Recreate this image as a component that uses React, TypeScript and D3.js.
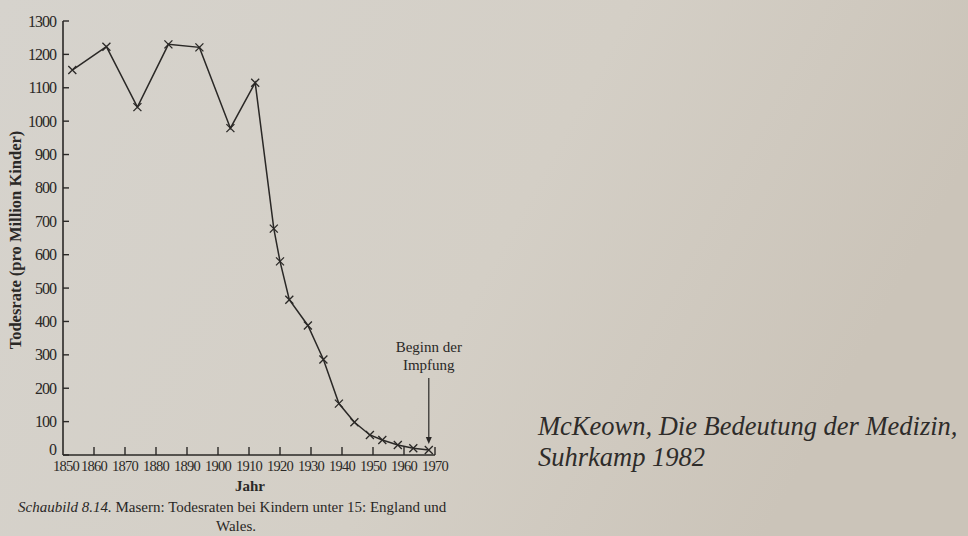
import React from "react";
import * as d3 from "d3";

const years = [1853, 1864, 1874, 1884, 1894, 1904, 1912, 1918, 1920, 1923, 1929, 1934, 1939, 1944, 1949, 1953, 1958, 1963, 1968];
const values = [1153, 1223, 1042, 1230, 1221, 979, 1115, 678, 580, 465, 388, 286, 154, 98, 60, 45, 30, 20, 15];
const yTicks = [0, 100, 200, 300, 400, 500, 600, 700, 800, 900, 1000, 1100, 1200, 1300];
const xTicks = [1850, 1860, 1870, 1880, 1890, 1900, 1910, 1920, 1930, 1940, 1950, 1960, 1970];
const vaccineYear = 1968;

const W = 968;
const H = 536;
const ink = "#2a2826";
const serif = "'Liberation Serif', 'DejaVu Serif', serif";

export default function App() {
  const x = d3.scaleLinear().domain([1850, 1970]).range([63, 435]);
  const y = d3.scaleLinear().domain([0, 1300]).range([455, 21]);
  const pts = years.map((yr, i) => [x(yr), y(values[i])] as [number, number]);
  const line = d3.line()(pts) || "";
  const m = 4;

  return (
    <svg width={W} height={H} style={{ position: "fixed", left: 0, top: 0 }} fontFamily={serif}>
      <defs>
        <linearGradient id="paper" x1="0" y1="0" x2="1" y2="0.3">
          <stop offset="0" stopColor="#d6d3cd" />
          <stop offset="0.6" stopColor="#d4cfc6" />
          <stop offset="1" stopColor="#cbc4b9" />
        </linearGradient>
      </defs>
      <rect x={0} y={0} width={W} height={H} fill="url(#paper)" />

      {/* y axis */}
      <line x1={x(1850)} x2={x(1850)} y1={y(1300)} y2={y(0)} stroke={ink} strokeWidth={1.6} />
      {yTicks.map((t) => (
        <g key={"y" + t}>
          <line x1={x(1850)} x2={x(1850) + 6} y1={y(t)} y2={y(t)} stroke={ink} strokeWidth={1.4} />
          <text
            x={x(1850) - 7}
            y={y(t) + (t === 0 ? 0 : 5.5)}
            textAnchor="end"
            fontSize={16}
            fill={ink}
            letterSpacing={-1}
          >
            {t}
          </text>
        </g>
      ))}

      {/* x axis */}
      <line x1={x(1850)} x2={x(1970)} y1={y(0)} y2={y(0)} stroke={ink} strokeWidth={1.6} />
      {xTicks.map((t) => (
        <g key={"x" + t}>
          {t > 1850 && <line x1={x(t)} x2={x(t)} y1={y(0)} y2={y(0) - 8} stroke={ink} strokeWidth={1.4} />}
          <text x={x(t) + (t === 1850 ? 3 : 0)} y={471} textAnchor="middle" fontSize={14.5} fill={ink} letterSpacing={-0.7}>
            {t}
          </text>
        </g>
      ))}

      <text x={250} y={491} textAnchor="middle" fontSize={15} fill={ink} fontWeight="bold">
        Jahr
      </text>
      <text
        transform={`translate(21,240) rotate(-90)`}
        textAnchor="middle"
        fontSize={16.5}
        fontWeight="bold"
        fill={ink}
      >
        Todesrate (pro Million Kinder)
      </text>

      {/* series */}
      <path d={line} fill="none" stroke={ink} strokeWidth={1.5} />
      {pts.map(([px, py], i) => (
        <path
          key={"m" + i}
          d={`M${px - m},${py - m}L${px + m},${py + m}M${px + m},${py - m}L${px - m},${py + m}`}
          stroke={ink}
          strokeWidth={1.3}
          fill="none"
        />
      ))}

      {/* annotation */}
      <text x={x(vaccineYear)} y={352} textAnchor="middle" fontSize={15} fill={ink}>
        Beginn der
      </text>
      <text x={x(vaccineYear)} y={370} textAnchor="middle" fontSize={15} fill={ink}>
        Impfung
      </text>
      <line x1={x(vaccineYear)} x2={x(vaccineYear)} y1={378} y2={440} stroke={ink} strokeWidth={1.2} />
      <path
        d={`M${x(vaccineYear) - 3},${437}L${x(vaccineYear) + 3},${437}L${x(vaccineYear)},${444}Z`}
        fill={ink}
      />

      {/* caption */}
      <text x={18} y={512} fontSize={15} fill={ink}>
        <tspan fontStyle="italic">Schaubild 8.14.</tspan>
        <tspan> Masern: Todesraten bei Kindern unter 15: England und</tspan>
      </text>
      <text x={236} y={531} textAnchor="middle" fontSize={15} fill={ink}>
        Wales.
      </text>

      {/* source note */}
      <text x={538} y={435} fontSize={26.5} fontStyle="italic" fill="#2e2c2a">
        McKeown, Die Bedeutung der Medizin,
      </text>
      <text x={538} y={466} fontSize={26.5} fontStyle="italic" fill="#2e2c2a">
        Suhrkamp 1982
      </text>
    </svg>
  );
}
